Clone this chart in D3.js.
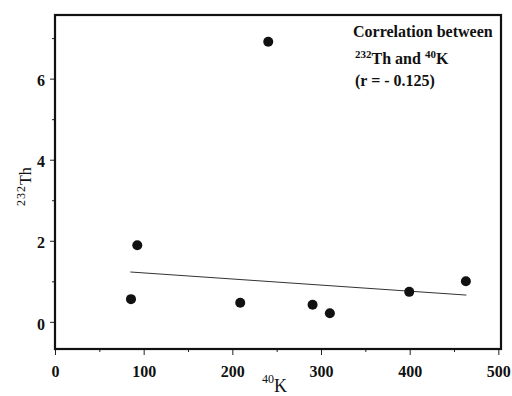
<!DOCTYPE html>
<html>
<head>
<meta charset="utf-8">
<script src="https://cdn.jsdelivr.net/npm/d3@7"></script>
<style>
  body { margin: 0; background: #fff; }
  svg text { font-family: "Liberation Serif", "DejaVu Serif", serif; }
</style>
</head>
<body>
<div class="chart"></div>
<script>
// 232Th vs 40K scatter with trend line

var svgWidth = 512;
var svgHeight = 396;

var margin = { top: 15, right: 11, bottom: 47, left: 55 };
var width = svgWidth - margin.left - margin.right;
var height = svgHeight - margin.top - margin.bottom;

// Data
var potassium = [85.7, 92.8, 208.9, 240.5, 290.5, 310, 399.5, 463.4];
var thorium = [0.56, 1.89, 0.47, 6.91, 0.42, 0.21, 0.74, 1.0];

// trend line end points
var fitX = [85, 464];
var fitY = [1.23, 0.66];

var xTicks = [0, 100, 200, 300, 400, 500];
var xMinor = [50, 150, 250, 350, 450];
var yTicks = [0, 2, 4, 6];
var yMinor = [1, 3, 5, 7];

var svg = d3.select(".chart")
  .append("svg")
  .attr("width", svgWidth)
  .attr("height", svgHeight);

var chartGroup = svg.append("g")
  .attr("transform", `translate(${margin.left}, ${margin.top})`);

var xScale = d3.scaleLinear()
  .domain([0, 503])
  .range([0, width]);

var yScale = d3.scaleLinear()
  .domain([-0.67, 7.57])
  .range([height, 0]);

// axes
var bottomAxis = d3.axisBottom(xScale)
  .tickValues(xTicks)
  .tickSize(6)
  .tickPadding(11)
  .tickFormat(d3.format("d"));

var bottomMinor = d3.axisBottom(xScale)
  .tickValues(xMinor)
  .tickSize(3)
  .tickFormat("");

var leftAxis = d3.axisLeft(yScale)
  .tickValues(yTicks)
  .tickSize(5)
  .tickPadding(5)
  .tickFormat(d3.format("d"));

var leftMinor = d3.axisLeft(yScale)
  .tickValues(yMinor)
  .tickSize(3)
  .tickFormat("");

function styleAxis(g) {
  g.select(".domain").remove();
  g.selectAll("line").attr("stroke", "#222").attr("stroke-width", 1);
  g.selectAll("text")
    .attr("fill", "#111")
    .style("font-size", "16px")
    .style("font-weight", "bold");
}

chartGroup.append("g")
  .attr("transform", `translate(0, ${height})`)
  .call(bottomAxis)
  .call(styleAxis);

chartGroup.append("g")
  .attr("transform", `translate(0, ${height})`)
  .call(bottomMinor)
  .call(styleAxis);

chartGroup.append("g")
  .call(leftAxis)
  .call(styleAxis)
  .selectAll("text")
  .attr("dy", "0.45em");

chartGroup.append("g")
  .call(leftMinor)
  .call(styleAxis);

// frame
chartGroup.append("rect")
  .attr("x", 0)
  .attr("y", 0)
  .attr("width", width)
  .attr("height", height)
  .attr("fill", "none")
  .attr("stroke", "#111")
  .attr("stroke-width", 2.2);

// trend line
var line = d3.line()
  .x(d => xScale(d[0]))
  .y(d => yScale(d[1]));

chartGroup.append("path")
  .datum(d3.zip(fitX, fitY))
  .attr("d", line)
  .attr("fill", "none")
  .attr("stroke", "#333")
  .attr("stroke-width", 1);

// points
chartGroup.selectAll(null)
  .data(d3.zip(potassium, thorium))
  .enter()
  .append("circle")
  .attr("cx", d => xScale(d[0]))
  .attr("cy", d => yScale(d[1]))
  .attr("r", 5)
  .attr("fill", "#111");

// annotation
var note = chartGroup.append("text")
  .attr("fill", "#111")
  .style("font-size", "16px")
  .style("font-weight", "bold");

note.append("tspan")
  .attr("x", 298)
  .attr("y", 22)
  .text("Correlation between");

var l2 = note.append("tspan").attr("x", 300).attr("y", 49);
l2.append("tspan").attr("font-size", "11px").attr("dy", -6).text("232");
l2.append("tspan").attr("dy", 6).text("Th and ");
l2.append("tspan").attr("font-size", "11px").attr("dy", -6).text("40");
l2.append("tspan").attr("dy", 6).text("K");

note.append("tspan")
  .attr("x", 300)
  .attr("y", 71)
  .text("(r = - 0.125)");

// axis labels
var yLabel = svg.append("text")
  .attr("transform", "translate(31, 206) rotate(-90)")
  .attr("fill", "#111")
  .style("font-size", "16px");
yLabel.append("tspan").attr("font-size", "12px").attr("dy", -6)
  .attr("letter-spacing", "1px").text("232");
yLabel.append("tspan").attr("dy", 6).text("Th");

var xLabel = svg.append("text")
  .attr("x", 262)
  .attr("y", 392)
  .attr("fill", "#111")
  .style("font-size", "18px");
xLabel.append("tspan").attr("font-size", "12px").attr("dy", -9).text("40");
xLabel.append("tspan").attr("dy", 9).text("K");
</script>
</body>
</html>
